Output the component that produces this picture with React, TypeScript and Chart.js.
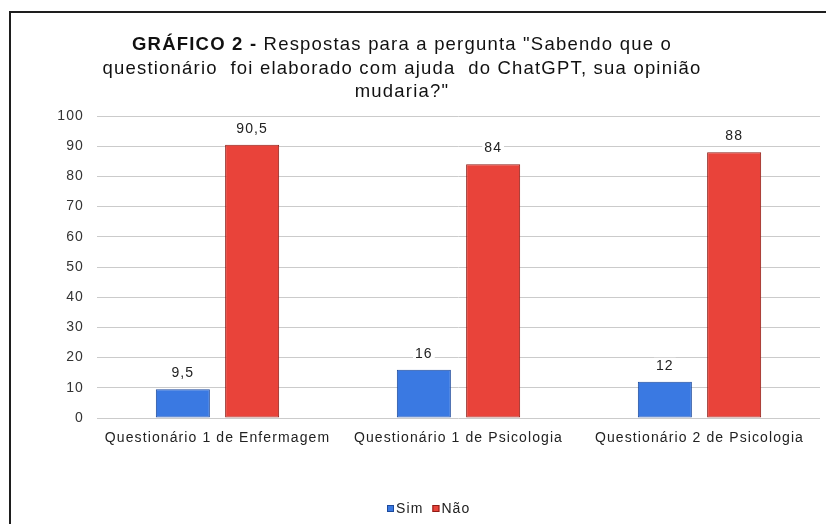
import React, { useEffect, useRef } from "react";
import { Chart, registerables } from "chart.js";

Chart.register(...registerables);

const categories = [
  "Questionário 1 de Enfermagem",
  "Questionário 1 de Psicologia",
  "Questionário 2 de Psicologia",
];
const simValues = [9.5, 16, 12];
const naoValues = [90.5, 84, 88];
const seriesNames = ["Sim", "Não"];
const titleBold = "GRÁFICO 2 -";
const titleLines = [
  " Respostas para a pergunta \"Sabendo que o",
  "questionário  foi elaborado com ajuda  do ChatGPT, sua opinião",
  "mudaria?\"",
];

const FONT = "'Liberation Sans', Arial, sans-serif";
const BLUE = "#3a79e2";
const BLUE_EDGE = "#1d4a9c";
const RED = "#e9433a";
const RED_EDGE = "#8e1c15";
const SPACING = "1.1px";

const fmt = (v: number) => String(v).replace(".", ",");

const setSpacing = (chart: any) => {
  (chart.ctx as any).letterSpacing = SPACING;
};

const decorations = {
  id: "decorations",
  beforeLayout: setSpacing,
  beforeDraw: setSpacing,
  afterDraw(chart: any) {
    const ctx = chart.ctx as CanvasRenderingContext2D;
    ctx.save();
    (ctx as any).letterSpacing = SPACING;

    // outer frame (top and left edges)
    ctx.strokeStyle = "#1e1e1e";
    ctx.lineWidth = 2;
    ctx.beginPath();
    ctx.moveTo(826, 12);
    ctx.lineTo(10, 12);
    ctx.lineTo(10, 524);
    ctx.stroke();

    // title, first line mixes bold and regular weight
    const cx = 402;
    ctx.fillStyle = "#111";
    ctx.textBaseline = "middle";
    (ctx as any).letterSpacing = "1.2px";
    ctx.font = `bold 18.5px ${FONT}`;
    const wBold = ctx.measureText(titleBold).width;
    ctx.font = `18.5px ${FONT}`;
    const wRest = ctx.measureText(titleLines[0]).width;
    const x = cx - (wBold + wRest) / 2;
    ctx.textAlign = "left";
    ctx.font = `bold 18.5px ${FONT}`;
    ctx.fillText(titleBold, x, 45);
    ctx.font = `18.5px ${FONT}`;
    ctx.fillText(titleLines[0], x + wBold, 45);
    ctx.textAlign = "center";
    ctx.fillText(titleLines[1], cx, 69);
    ctx.fillText(titleLines[2], cx, 92);
    (ctx as any).letterSpacing = SPACING;

    // value labels above each bar
    ctx.font = `14px ${FONT}`;
    ctx.textAlign = "center";
    ctx.textBaseline = "middle";
    chart.data.datasets.forEach((ds: any, di: number) => {
      const meta = chart.getDatasetMeta(di);
      meta.data.forEach((bar: any, i: number) => {
        const label = fmt(ds.data[i]);
        const ty = bar.y - 16;
        const tw = ctx.measureText(label).width;
        ctx.fillStyle = "#fff";
        ctx.fillRect(bar.x - tw / 2 - 2, ty - 8, tw + 4, 16);
        ctx.fillStyle = "#222";
        ctx.fillText(label, bar.x, ty);
      });
    });

    // legend
    const ly = 509;
    ctx.font = `14px ${FONT}`;
    ctx.textAlign = "left";
    const items = [
      { name: seriesNames[0], fill: BLUE, edge: BLUE_EDGE },
      { name: seriesNames[1], fill: RED, edge: RED_EDGE },
    ];
    let lx = 387;
    items.forEach((it) => {
      ctx.fillStyle = it.fill;
      ctx.fillRect(lx, ly - 4, 7, 7);
      ctx.strokeStyle = it.edge;
      ctx.lineWidth = 1;
      ctx.strokeRect(lx + 0.5, ly - 3.5, 6, 6);
      ctx.fillStyle = "#222";
      ctx.fillText(it.name, lx + 9, ly);
      lx += 9 + ctx.measureText(it.name).width + 9;
    });

    ctx.restore();
  },
};

export default function App() {
  const ref = useRef<HTMLCanvasElement | null>(null);

  useEffect(() => {
    if (!ref.current) return;
    const chart = new Chart(ref.current, {
      type: "bar",
      data: {
        labels: categories,
        datasets: [
          {
            label: seriesNames[0],
            data: simValues,
            backgroundColor: BLUE,
            borderColor: BLUE_EDGE,
            borderWidth: 1,
            borderSkipped: false,
          },
          {
            label: seriesNames[1],
            data: naoValues,
            backgroundColor: RED,
            borderColor: RED_EDGE,
            borderWidth: 1,
            borderSkipped: false,
          },
        ],
      },
      options: {
        animation: false,
        responsive: false,
        layout: { padding: { left: 57, right: 6, top: 116, bottom: 76 } },
        datasets: {
          bar: { categoryPercentage: 0.575, barPercentage: 0.78 },
        },
        plugins: {
          legend: { display: false },
          title: { display: false },
          tooltip: { enabled: false },
        },
        scales: {
          x: {
            grid: { display: false, drawTicks: false },
            border: { display: false },
            ticks: {
              padding: 12,
              color: "#222",
              font: { family: FONT, size: 14 },
              maxRotation: 0,
              autoSkip: false,
            },
            afterFit: (s: any) => {
              s.height = 30;
            },
          },
          y: {
            min: 0,
            max: 100,
            grid: { color: "#cbcbcb", lineWidth: 1, drawTicks: false },
            border: { display: false },
            ticks: {
              stepSize: 10,
              padding: 13,
              color: "#333",
              font: { family: FONT, size: 14 },
            },
            afterFit: (s: any) => {
              s.width = 40;
            },
          },
        },
      },
      plugins: [decorations],
    });
    return () => chart.destroy();
  }, []);

  return (
    <div
      style={{
        position: "fixed",
        left: 0,
        top: 0,
        width: 826,
        height: 524,
        background: "#fff",
      }}
    >
      <canvas ref={ref} width={826} height={524} />
    </div>
  );
}
